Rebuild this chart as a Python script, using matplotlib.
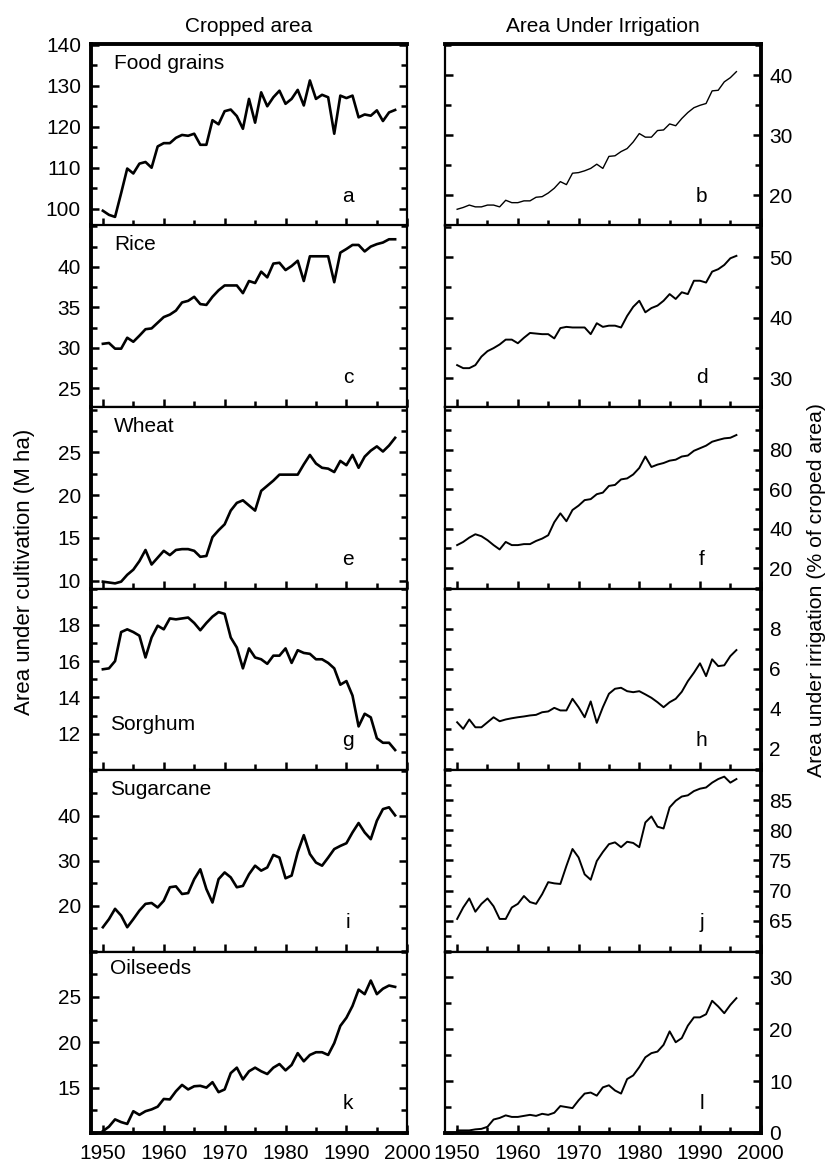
import matplotlib
matplotlib.use("Agg")
import matplotlib.pyplot as plt
from matplotlib.ticker import MultipleLocator, FixedLocator

plt.rcParams['font.family'] = ['Liberation Sans', 'DejaVu Sans']

years_left = list(range(1950, 1999))
years_right = list(range(1950, 1997))

# cropped area (M ha), 1950-1998
food_grains = [99.5, 98.5, 98, 103.8, 109.8, 108.6, 111, 111.4, 110, 115.2,
               116, 116, 117.3, 118, 117.8, 118.3, 115.6, 115.6, 121.6, 120.6,
               123.8, 124.2, 122.6, 119.5, 126.8, 121, 128.4, 125, 127.2, 128.8,
               125.6, 126.8, 129, 125.2, 131.3, 126.8, 127.8, 127.2, 118.3, 127.6,
               127, 127.6, 122.3, 123, 122.7, 124, 121.4, 123.5, 124.1]
rice = [30.5, 30.6, 29.9, 29.9, 31.25, 30.75, 31.5, 32.3, 32.4, 33.1,
        33.8, 34.1, 34.6, 35.6, 35.8, 36.3, 35.4, 35.3, 36.3, 37.1,
        37.7, 37.7, 37.7, 36.75, 38.25, 38, 39.4, 38.7, 40.4, 40.5,
        39.6, 40.1, 40.75, 38.25, 41.3, 41.3, 41.3, 41.3, 38.1, 41.75,
        42.2, 42.7, 42.7, 41.9, 42.5, 42.8, 43, 43.4, 43.4]
wheat = [9.9, 9.8, 9.7, 9.9, 10.7, 11.3, 12.3, 13.6, 11.9, 12.7,
         13.5, 13.0, 13.6, 13.7, 13.7, 13.5, 12.8, 12.9, 15.1, 15.9,
         16.6, 18.2, 19.1, 19.4, 18.8, 18.2, 20.5, 21.1, 21.7, 22.4,
         22.4, 22.4, 22.4, 23.6, 24.7, 23.7, 23.2, 23.1, 22.7, 24.0,
         23.5, 24.7, 23.2, 24.5, 25.2, 25.7, 25.1, 25.8, 26.7]
sorghum = [15.55, 15.6, 16.0, 17.6, 17.75, 17.6, 17.4, 16.2, 17.3, 17.95,
           17.75, 18.35, 18.3, 18.35, 18.4, 18.1, 17.7, 18.1, 18.45, 18.7,
           18.6, 17.3, 16.75, 15.6, 16.7, 16.2, 16.1, 15.85, 16.3, 16.3,
           16.7, 15.9, 16.6, 16.45, 16.4, 16.1, 16.1, 15.9, 15.6, 14.7,
           14.9, 14.1, 12.4, 13.1, 12.9, 11.75, 11.5, 11.5, 11.1]
sugarcane = [15.2, 17, 19.3, 17.8, 15.2, 17, 18.9, 20.4, 20.6, 19.6,
             21.1, 24.1, 24.3, 22.6, 22.8, 25.9, 28.1, 23.7, 20.7, 25.9,
             27.4, 26.3, 24.1, 24.4, 27, 28.9, 27.8, 28.5, 31.3, 30.7,
             26.1, 26.7, 31.9, 35.7, 31.5, 29.6, 28.9, 30.7, 32.6, 33.3,
             33.9, 36.3, 38.4, 36.3, 34.8, 38.9, 41.5, 41.9, 40.1]
oilseeds = [10.2, 10.7, 11.5, 11.2, 11.0, 12.4, 12.0, 12.4, 12.6, 12.9,
            13.75, 13.7, 14.6, 15.3, 14.8, 15.15, 15.2, 15.0, 15.6, 14.5,
            14.8, 16.6, 17.2, 15.9, 16.8, 17.2, 16.8, 16.5, 17.2, 17.6,
            16.9, 17.5, 18.8, 17.9, 18.6, 18.9, 18.9, 18.6, 19.9, 21.8,
            22.7, 24.0, 25.8, 25.3, 26.8, 25.3, 25.9, 26.25, 26.1]

# irrigated area (% of cropped area), 1950-1996
irr_food_grains = [17.7, 18.0, 18.4, 18.1, 18.1, 18.4, 18.4, 18.1, 19.2, 18.8,
                   18.8, 19.1, 19.1, 19.7, 19.8, 20.4, 21.2, 22.3, 21.8, 23.7,
                   23.8, 24.1, 24.5, 25.2, 24.5, 26.5, 26.6, 27.3, 27.8, 28.9,
                   30.3, 29.7, 29.7, 30.8, 30.9, 31.9, 31.6, 32.8, 33.8, 34.6,
                   35.0, 35.3, 37.4, 37.5, 38.9, 39.6, 40.6]
irr_rice = [32.2, 31.7, 31.7, 32.2, 33.6, 34.5, 35.0, 35.6, 36.4, 36.4,
            35.8, 36.7, 37.5, 37.4, 37.3, 37.3, 36.6, 38.3, 38.5, 38.4,
            38.4, 38.4, 37.3, 39.1, 38.5, 38.7, 38.7, 38.4, 40.3, 41.8,
            42.8, 40.9, 41.6, 42, 42.8, 43.9, 43.1, 44.2, 43.9, 46.1,
            46.1, 45.8, 47.6, 48, 48.7, 49.8, 50.2]
irr_wheat = [31.7, 33.3, 35.5, 37.2, 36.2, 34.2, 31.7, 29.5, 33.3, 31.7,
             31.7, 32.2, 32.2, 33.8, 35, 36.7, 43.3, 47.8, 43.8, 49.5,
             51.7, 54.5, 55, 57.5, 58.3, 61.7, 62.2, 65, 65.5, 67.5,
             70.8, 76.6, 71.3, 72.5, 73.3, 74.5, 75, 76.6, 77.1, 79.5,
             80.8, 82.1, 84.1, 85, 85.8, 86.1, 87.5]
irr_sorghum = [3.33, 3.0, 3.47, 3.08, 3.08, 3.33, 3.58, 3.38, 3.47, 3.53,
               3.58, 3.62, 3.67, 3.7, 3.83, 3.87, 4.05, 3.92, 3.92, 4.5,
               4.08, 3.58, 4.37, 3.3, 4.08, 4.75, 5.0, 5.05, 4.88, 4.83,
               4.88, 4.72, 4.55, 4.33, 4.08, 4.33, 4.5, 4.85, 5.38, 5.8,
               6.27, 5.63, 6.47, 6.13, 6.17, 6.63, 6.93]
irr_sugarcane = [65.3, 67.2, 68.7, 66.5, 67.8, 68.7, 67.4, 65.3, 65.3, 67.2,
                 67.8, 69.1, 68.1, 67.8, 69.4, 71.4, 71.2, 71.1, 74.1, 76.9,
                 75.5, 72.7, 71.8, 74.9, 76.4, 77.7, 78, 77.2, 78.1, 77.9,
                 77.2, 81.3, 82.3, 80.6, 80.3, 83.8, 84.9, 85.6, 85.8, 86.5,
                 86.9, 87.1, 87.9, 88.5, 88.9, 87.9, 88.5]
irr_oilseeds = [0.5, 0.5, 0.5, 0.7, 0.8, 1.2, 2.6, 2.9, 3.4, 3.1,
                3.1, 3.3, 3.5, 3.3, 3.7, 3.5, 3.9, 5.2, 5.0, 4.8,
                6.3, 7.6, 7.8, 7.2, 8.8, 9.2, 8.2, 7.6, 10.4, 11.1,
                12.7, 14.6, 15.4, 15.7, 17, 19.6, 17.5, 18.3, 20.7, 22.3,
                22.3, 22.9, 25.5, 24.4, 23.1, 24.7, 26]

crop_names = ['Food grains', 'Rice', 'Wheat', 'Sorghum', 'Sugarcane', 'Oilseeds']
letters_left = ['a', 'c', 'e', 'g', 'i', 'k']
letters_right = ['b', 'd', 'f', 'h', 'j', 'l']
left_series = [food_grains, rice, wheat, sorghum, sugarcane, oilseeds]
right_series = [irr_food_grains, irr_rice, irr_wheat, irr_sorghum,
                irr_sugarcane, irr_oilseeds]

# labelled y ticks per panel
left_ticks = [[100, 110, 120, 130, 140], [25, 30, 35, 40], [10, 15, 20, 25],
              [12, 14, 16, 18], [20, 30, 40], [15, 20, 25]]
right_ticks = [[20, 30, 40], [30, 40, 50], [20, 40, 60, 80],
               [2, 4, 6, 8], [65, 70, 75, 80, 85], [0, 10, 20, 30]]
x_ticks = [1950, 1960, 1970, 1980, 1990, 2000]

# (ylim, minor step) per panel
left_axes_cfg = [((95.9, 140.2), 5), ((22.7, 45.1), 2.5), ((9.1, 30.3), 2.5),
                 ((10, 20), 1), ((9.8, 50.2), 5), ((10, 30), 2.5)]
right_axes_cfg = [((15, 45.2), 5), ((25.3, 55.2), 5), ((9.7, 101.7), 10),
                  ((0.95, 10), 1), ((59.9, 90), 2.5), ((0, 35), 5)]
name_pos = [(0.074, 0.894), (0.074, 0.895), (0.074, 0.89),
            (0.061, 0.248), (0.061, 0.895), (0.061, 0.905)]

fig = plt.figure(figsize=(8.28, 11.62), dpi=100)
top, bottom = 1 - 44 / 1162, 1 - 1133 / 1162
h = (top - bottom) / 6
lx0, lx1 = 90.7 / 828, 407.3 / 828
rx0, rx1 = 445 / 828, 760.7 / 828

fs = 15
for i in range(6):
    y0 = top - (i + 1) * h
    axl = fig.add_axes([lx0, y0, lx1 - lx0, h])
    axr = fig.add_axes([rx0, y0, rx1 - rx0, h])
    for col, ax in enumerate([axl, axr]):
        if col == 0:
            ax.plot(years_left, left_series[i], color='black', lw=1.9)
            (ylo, yhi), mnr = left_axes_cfg[i]
            ticks = left_ticks[i]
        else:
            lw = 1.0 if i == 0 else 1.4
            ax.plot(years_right, right_series[i], color='black', lw=lw)
            (ylo, yhi), mnr = right_axes_cfg[i]
            ticks = right_ticks[i]
        ax.set_xlim(1948, 2000)
        ax.set_ylim(ylo, yhi)
        ax.xaxis.set_major_locator(FixedLocator(x_ticks))
        ax.xaxis.set_minor_locator(MultipleLocator(5))
        ax.yaxis.set_major_locator(FixedLocator(ticks))
        ax.yaxis.set_minor_locator(MultipleLocator(mnr))
        ax.tick_params(which='both', direction='in', left=True, right=True,
                       top=False, bottom=True, width=1.8, labelsize=fs)
        ax.tick_params(which='major', length=6)
        ax.tick_params(which='minor', length=4)
        ax.tick_params(axis='x', pad=8)
        if col == 0:
            ax.tick_params(axis='y', labelleft=True, labelright=False, pad=7)
        else:
            ax.tick_params(axis='y', labelleft=False, labelright=True, pad=6)
        if i < 5:
            ax.tick_params(axis='x', labelbottom=False)
        for s in ax.spines.values():
            s.set_linewidth(1.6)
        if i == 0:
            ax.spines['top'].set_linewidth(2.8)
        if i == 5:
            ax.spines['bottom'].set_linewidth(2.8)
        if col == 0:
            ax.spines['left'].set_linewidth(2.8)
        else:
            ax.spines['right'].set_linewidth(2.8)
        letter = letters_left[i] if col == 0 else letters_right[i]
        ax.text(0.813, 0.16, letter, transform=ax.transAxes, fontsize=fs,
                ha='center', va='center')
    nx, ny = name_pos[i]
    axl.text(nx, ny, crop_names[i], transform=axl.transAxes, fontsize=fs,
             ha='left', va='center')
    if i == 0:
        axl.set_title('Cropped area', fontsize=fs, pad=9)
        axr.set_title('Area Under Irrigation', fontsize=fs, pad=9)

fig.text(25 / 828, 1 - 572 / 1162, 'Area under cultivation (M ha)',
         rotation=90, ha='center', va='center', fontsize=16)
fig.text(817 / 828, 1 - 590 / 1162, 'Area under irrigation (% of croped area)',
         rotation=90, ha='center', va='center', fontsize=15.3)

fig.savefig('out.png', dpi=100)
